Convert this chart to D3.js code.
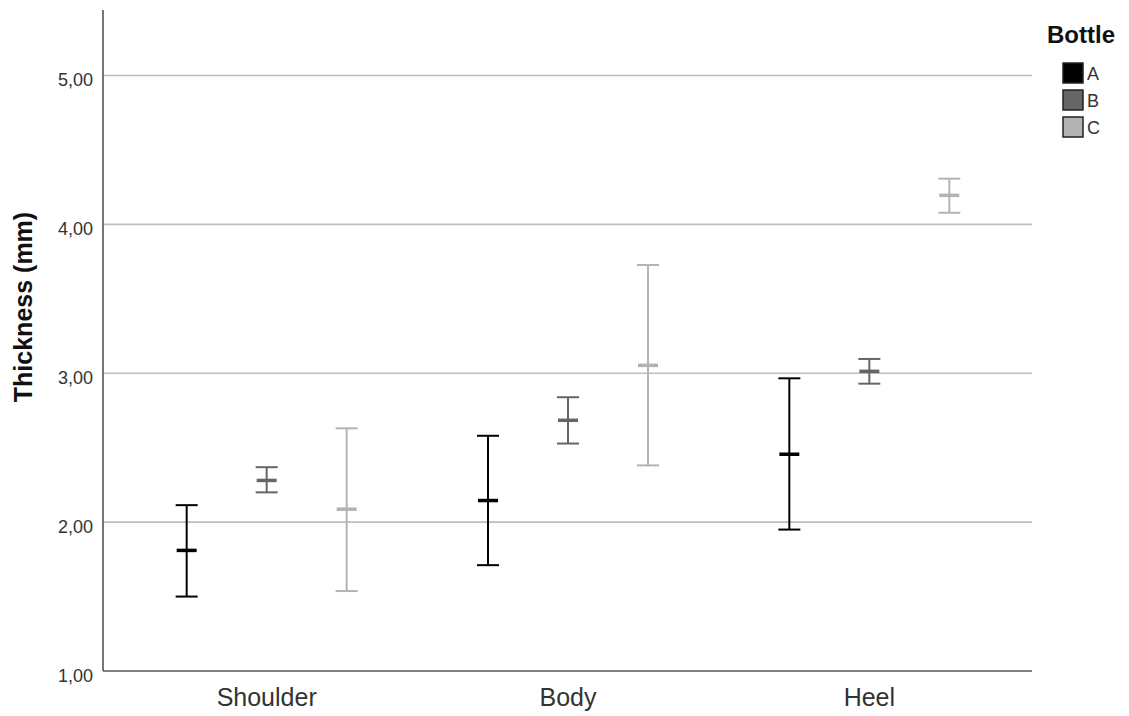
<!DOCTYPE html>
<meta charset="utf-8">
<style>
  body { margin: 0; background: #fff; }
  text { font-family: Arial, "Liberation Sans", sans-serif; }
</style>
<body>
<script src="https://cdn.jsdelivr.net/npm/d3@7"></script>
<script>

var categories = ["Shoulder", "Body", "Heel"];
var bottles = ["A", "B", "C"];
var colors = ["#000000", "#666666", "#b3b3b3"];
var yTicks = [1, 2, 3, 4, 5];

// mean, lower and upper error bar per bottle, in category order
var meanA = [1.81, 2.145, 2.456];
var lowA  = [1.50, 1.711, 1.950];
var highA = [2.114, 2.580, 2.966];
var meanB = [2.28, 2.684, 3.013];
var lowB  = [2.20, 2.528, 2.930];
var highB = [2.369, 2.839, 3.096];
var meanC = [2.087, 3.053, 4.195];
var lowC  = [1.537, 2.381, 4.078];
var highC = [2.630, 3.727, 4.307];

var width = 1129, height = 716;

var svg = d3.select("body").append("svg")
    .attr("width", width)
    .attr("height", height);

var y = d3.scaleLinear().domain([1, 5.44]).range([671, 10]);
var x = d3.scaleBand().domain(categories).range([116, 1020]);
var xs = d3.scalePoint().domain(bottles).range([-80, 80]);
var color = d3.scaleOrdinal().domain(bottles).range(colors);

var rows = [];
var means = [meanA, meanB, meanC], lows = [lowA, lowB, lowC], highs = [highA, highB, highC];
bottles.forEach(function(b, i) {
  categories.forEach(function(c, j) {
    rows.push({cat: c, bottle: b, mean: means[i][j], low: lows[i][j], high: highs[i][j]});
  });
});

// grid lines
svg.append("g")
  .selectAll("line")
  .data(yTicks.slice(1))
  .enter().append("line")
    .attr("x1", 103).attr("x2", 1032)
    .attr("y1", function(d) { return y(d); })
    .attr("y2", function(d) { return y(d); })
    .attr("stroke", "#bdbdbd")
    .attr("stroke-width", 1.6);

// y axis
var yAxis = svg.append("g")
    .attr("transform", "translate(103,0)")
    .call(d3.axisLeft(y).tickValues(yTicks).tickSize(0).tickPadding(10)
      .tickFormat(function(d) { return d3.format(".2f")(d).replace(".", ","); }));
yAxis.select(".domain").remove();
yAxis.selectAll("text")
    .attr("font-size", 18)
    .attr("dy", "0.58em")
    .attr("fill", "#333");

svg.append("line")
    .attr("x1", 103).attr("x2", 103).attr("y1", 10).attr("y2", 671)
    .attr("stroke", "#555").attr("stroke-width", 1.6);

// x axis
var xAxis = svg.append("g")
    .attr("transform", "translate(0,671)")
    .call(d3.axisBottom(x).tickSize(0).tickPadding(17));
xAxis.select(".domain").remove();
xAxis.selectAll("text").attr("font-size", 25).attr("fill", "#333");

svg.append("line")
    .attr("x1", 103).attr("x2", 1032).attr("y1", 671).attr("y2", 671)
    .attr("stroke", "#555").attr("stroke-width", 1.6);

svg.append("text")
    .attr("transform", "translate(32,307) rotate(-90)")
    .attr("text-anchor", "middle")
    .attr("font-size", 25)
    .attr("font-weight", "bold")
    .attr("fill", "#111")
    .text("Thickness (mm)");

// error bars
var bars = svg.append("g")
  .selectAll("g")
  .data(rows)
  .enter().append("g")
    .attr("transform", function(d) {
      return "translate(" + (x(d.cat) + x.bandwidth() / 2 + xs(d.bottle)) + ",0)";
    })
    .attr("stroke", function(d) { return color(d.bottle); });

bars.append("line")
    .attr("y1", function(d) { return y(d.low); })
    .attr("y2", function(d) { return y(d.high); })
    .attr("stroke-width", 2);

bars.append("line")
    .attr("x1", -11).attr("x2", 11)
    .attr("y1", function(d) { return y(d.low); })
    .attr("y2", function(d) { return y(d.low); })
    .attr("stroke-width", 2);

bars.append("line")
    .attr("x1", -11).attr("x2", 11)
    .attr("y1", function(d) { return y(d.high); })
    .attr("y2", function(d) { return y(d.high); })
    .attr("stroke-width", 2);

bars.append("line")
    .attr("x1", -10).attr("x2", 10)
    .attr("y1", function(d) { return y(d.mean); })
    .attr("y2", function(d) { return y(d.mean); })
    .attr("stroke-width", 3.5);

// legend
var legend = svg.append("g").attr("transform", "translate(1047,0)");
legend.append("text")
    .attr("x", 0).attr("y", 43)
    .attr("font-size", 24)
    .attr("font-weight", "bold")
    .attr("fill", "#111")
    .text("Bottle");

var item = legend.selectAll(".item")
  .data(bottles)
  .enter().append("g")
    .attr("class", "item")
    .attr("transform", function(d, i) { return "translate(16," + (63 + i * 27) + ")"; });

item.append("rect")
    .attr("width", 20).attr("height", 20)
    .attr("fill", function(d) { return color(d); })
    .attr("stroke", "#222")
    .attr("stroke-width", 1.5);

item.append("text")
    .attr("x", 24).attr("y", 17)
    .attr("font-size", 18)
    .attr("fill", "#333")
    .text(function(d) { return d; });

</script>
</body>
